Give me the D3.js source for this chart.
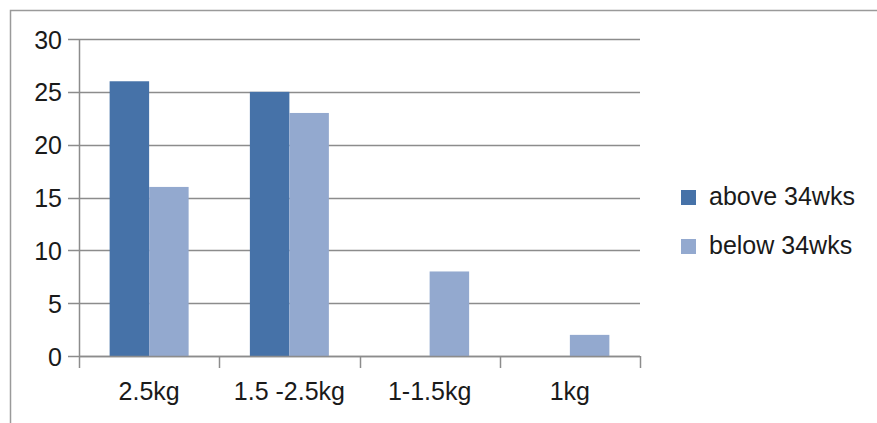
<!DOCTYPE html>
<html>
<head>
<meta charset="utf-8">
<script src="https://cdn.jsdelivr.net/npm/d3@7"></script>
<style>
  html, body { margin: 0; padding: 0; background: #fff; }
  svg { display: block; }
  text { font-family: "Liberation Sans", Arial, sans-serif; fill: #1a1a1a; }
</style>
</head>
<body>
<svg id="chart" width="877" height="423"></svg>
<script>
// Birth-weight groups and counts per gestation group
const categories = ["2.5kg", "1.5 -2.5kg", "1-1.5kg", "1kg"];
const seriesNames = ["above 34wks", "below 34wks"];
const above34 = [26, 25, 0, 0];
const below34 = [16, 23, 8, 2];
const yTicks = [0, 5, 10, 15, 20, 25, 30];
const colors = ["#4672A8", "#93A9CF"];

const svg = d3.select("#chart");
const fontSize = 25;

// outer chart frame
svg.append("rect")
  .attr("x", 10.5).attr("y", 10.5)
  .attr("width", 900).attr("height", 600)
  .attr("fill", "none").attr("stroke", "#9a9a9a").attr("stroke-width", 1.5);

const plot = { left: 79, right: 640, top: 39, bottom: 356 };

const x = d3.scaleBand().domain(categories).range([plot.left, plot.right]);
const y = d3.scaleLinear().domain([0, 30]).range([plot.bottom, plot.top]);

// horizontal gridlines with left tick marks
const grid = svg.append("g");
grid.selectAll("line").data(yTicks).join("line")
  .attr("x1", plot.left - 11).attr("x2", plot.right)
  .attr("y1", d => Math.round(y(d)) + 0.5).attr("y2", d => Math.round(y(d)) + 0.5)
  .attr("stroke", "#8c8c8c").attr("stroke-width", 1.5);

// y tick labels
svg.append("g").selectAll("text").data(yTicks).join("text")
  .attr("x", 62).attr("y", d => y(d) + 9.5)
  .attr("text-anchor", "end")
  .style("font-size", fontSize + "px")
  .text(d => d);

// bars
const groupWidth = 79;
const x1 = d3.scaleBand().domain(seriesNames).range([0, groupWidth]);
const rows = categories.map((c, i) => ({ cat: c, vals: [above34[i], below34[i]] }));
const barG = svg.append("g");
rows.forEach(r => {
  const gx = x(r.cat) + (x.bandwidth() - groupWidth) / 2;
  r.vals.forEach((v, j) => {
    if (v <= 0) return;
    barG.append("rect")
      .attr("x", gx + x1(seriesNames[j]))
      .attr("width", x1.bandwidth())
      .attr("y", y(v))
      .attr("height", y(0) - y(v))
      .attr("fill", colors[j]);
  });
});

// axes lines
svg.append("line")
  .attr("x1", plot.left + 0.5).attr("x2", plot.left + 0.5)
  .attr("y1", plot.top).attr("y2", plot.bottom + 1)
  .attr("stroke", "#8c8c8c").attr("stroke-width", 1.5);
svg.append("line")
  .attr("x1", plot.left).attr("x2", plot.right)
  .attr("y1", plot.bottom + 0.5).attr("y2", plot.bottom + 0.5)
  .attr("stroke", "#8c8c8c").attr("stroke-width", 1.5);

// category boundary ticks
const bounds = categories.map(c => x(c)).concat([plot.right]);
svg.append("g").selectAll("line").data(bounds).join("line")
  .attr("x1", d => Math.round(d) + 0.5).attr("x2", d => Math.round(d) + 0.5)
  .attr("y1", plot.bottom).attr("y2", plot.bottom + 12)
  .attr("stroke", "#8c8c8c").attr("stroke-width", 1.5);

// category labels
svg.append("g").selectAll("text").data(categories).join("text")
  .attr("x", d => x(d) + x.bandwidth() / 2)
  .attr("y", 400)
  .attr("text-anchor", "middle")
  .style("font-size", fontSize + "px")
  .text(d => d);

// legend
const legend = svg.append("g");
seriesNames.forEach((name, i) => {
  const ly = 190 + i * 49;
  legend.append("rect")
    .attr("x", 681).attr("y", ly).attr("width", 15).attr("height", 15)
    .attr("fill", colors[i]);
  legend.append("text")
    .attr("x", 709).attr("y", ly + 15)
    .style("font-size", fontSize + "px")
    .text(name);
});
</script>
</body>
</html>
